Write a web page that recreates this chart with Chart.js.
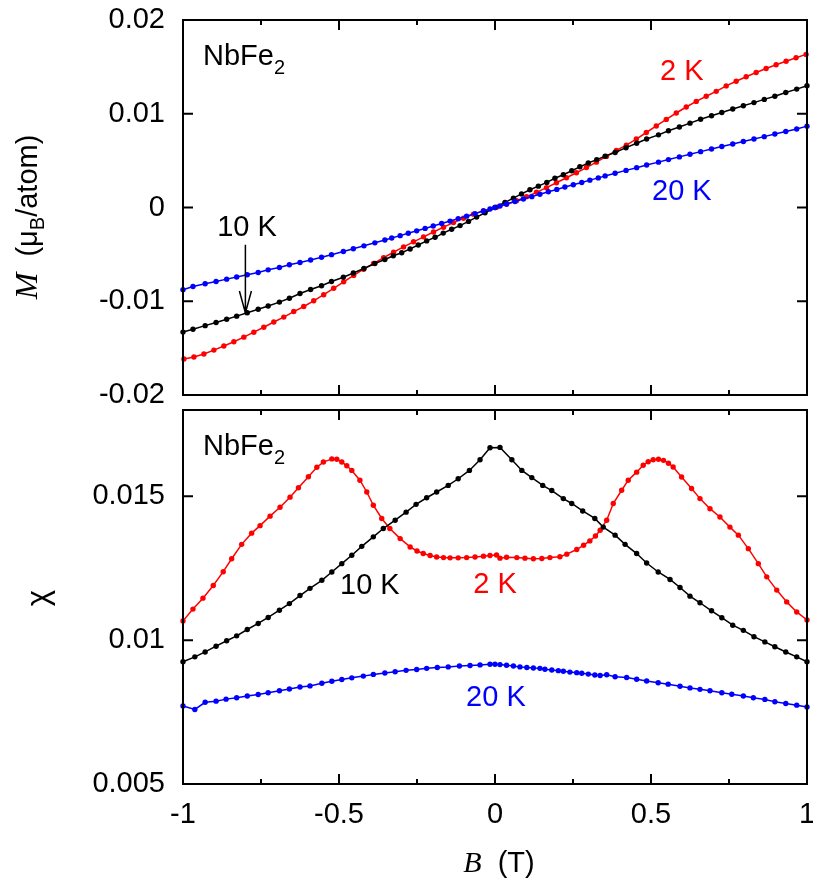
<!DOCTYPE html>
<html lang="en">
<head>
<meta charset="utf-8">
<title>NbFe2 magnetization and susceptibility</title>
<script src="https://cdn.jsdelivr.net/npm/chart.js@4.4.1/dist/chart.umd.min.js"></script>
<style>
  html, body { margin: 0; padding: 0; background: #fff; }
  #wrap { position: relative; width: 813px; height: 879px; }
  #wrap canvas { position: absolute; left: 0; }
  #magChart { top: 0; }
  #chiChart { top: 400px; }
</style>
</head>
<body>
<div id="wrap">
  <canvas id="magChart" width="813" height="420"></canvas>
  <canvas id="chiChart" width="813" height="479"></canvas>
</div>

<script>
// ---- magnetization M(B), muB/atom ----
const magField20K = [-1, -0.968, -0.929, -0.894, -0.86, -0.828, -0.794, -0.759, -0.727, -0.691,
  -0.659, -0.625, -0.591, -0.556, -0.524, -0.486, -0.454, -0.42, -0.385, -0.353,
  -0.331, -0.304, -0.278, -0.251, -0.224, -0.198, -0.171, -0.144, -0.118, -0.091,
  -0.064, -0.037, -0.016, 0, 0.016, 0.037, 0.064, 0.091, 0.118, 0.144,
  0.171, 0.198, 0.224, 0.251, 0.278, 0.304, 0.331, 0.353, 0.385, 0.42,
  0.454, 0.486, 0.524, 0.556, 0.591, 0.625, 0.659, 0.694, 0.727, 0.762,
  0.796, 0.83, 0.863, 0.897, 0.932, 0.967, 1];
const mag20K = [-0.00878, -0.00843, -0.00814, -0.00789, -0.00764, -0.00742, -0.00718, -0.00693, -0.00665, -0.0064,
  -0.00611, -0.00587, -0.0056, -0.00531, -0.00503, -0.00469, -0.0044, -0.00409, -0.00377, -0.00347,
  -0.00326, -0.003, -0.00275, -0.00249, -0.00223, -0.00198, -0.00171, -0.00145, -0.00119, -0.00092,
  -0.00065, -0.00038, -0.00016, 0, 0.00016, 0.00038, 0.00064, 0.0009, 0.00116, 0.00142,
  0.00168, 0.00193, 0.00218, 0.00243, 0.00267, 0.00292, 0.00316, 0.00337, 0.00366, 0.00396,
  0.00425, 0.00453, 0.00484, 0.00511, 0.0054, 0.00568, 0.00596, 0.00624, 0.0065, 0.00677,
  0.00704, 0.0073, 0.00756, 0.00784, 0.0081, 0.00838, 0.00868];

const magField10K = [-1, -0.968, -0.929, -0.894, -0.86, -0.828, -0.794, -0.759, -0.727, -0.691,
  -0.659, -0.625, -0.591, -0.556, -0.524, -0.486, -0.454, -0.42, -0.385, -0.353,
  -0.326, -0.299, -0.272, -0.246, -0.219, -0.192, -0.166, -0.139, -0.112, -0.085,
  -0.059, -0.032, 0, 0.032, 0.059, 0.085, 0.112, 0.139, 0.166, 0.192,
  0.219, 0.246, 0.272, 0.299, 0.326, 0.353, 0.385, 0.42, 0.454, 0.486,
  0.524, 0.556, 0.591, 0.625, 0.659, 0.694, 0.727, 0.762, 0.796, 0.83,
  0.863, 0.897, 0.932, 0.967, 1];
const mag10K = [-0.01329, -0.01298, -0.0126, -0.01226, -0.01192, -0.01159, -0.01123, -0.01086, -0.0105, -0.01009,
  -0.00968, -0.00918, -0.00875, -0.00834, -0.0079, -0.00744, -0.00699, -0.0065, -0.00598, -0.00554,
  -0.00515, -0.00482, -0.00442, -0.004, -0.00356, -0.00318, -0.00273, -0.00232, -0.00193, -0.00148,
  -0.00102, -0.00056, 0, 0.00055, 0.001, 0.00145, 0.00189, 0.00228, 0.00268, 0.00312,
  0.00349, 0.00392, 0.00434, 0.00474, 0.00511, 0.00548, 0.00587, 0.00638, 0.00685, 0.0073,
  0.00775, 0.00818, 0.00858, 0.009, 0.00941, 0.00978, 0.01013, 0.0105, 0.01085, 0.01119,
  0.01153, 0.01186, 0.01227, 0.01263, 0.01298];

const magField2K = [-0.997, -0.965, -0.933, -0.901, -0.869, -0.837, -0.805, -0.773, -0.741, -0.709,
  -0.677, -0.645, -0.613, -0.581, -0.549, -0.517, -0.485, -0.453, -0.421, -0.389,
  -0.357, -0.325, -0.293, -0.261, -0.229, -0.197, -0.165, -0.133, -0.101, -0.069,
  -0.037, 0.005, 0.037, 0.069, 0.101, 0.133, 0.165, 0.197, 0.229, 0.261,
  0.293, 0.325, 0.357, 0.389, 0.421, 0.453, 0.485, 0.517, 0.549, 0.581,
  0.613, 0.645, 0.677, 0.709, 0.741, 0.773, 0.805, 0.837, 0.869, 0.901,
  0.933, 0.965, 0.997];
const mag2K = [-0.01616, -0.01594, -0.01562, -0.01521, -0.01478, -0.01432, -0.01383, -0.0133, -0.01277, -0.01221,
  -0.01169, -0.0111, -0.01056, -0.00995, -0.0093, -0.00862, -0.00793, -0.00724, -0.00658, -0.00596,
  -0.00536, -0.00477, -0.0042, -0.00366, -0.00313, -0.00261, -0.0021, -0.00161, -0.00114, -0.00071,
  -0.00033, 0.00004, 0.00034, 0.00072, 0.00115, 0.00162, 0.00212, 0.00264, 0.00317, 0.00371,
  0.00426, 0.00484, 0.00545, 0.00609, 0.00665, 0.0073, 0.008, 0.0087, 0.0094, 0.01008,
  0.01072, 0.01132, 0.01187, 0.01239, 0.01297, 0.01347, 0.01395, 0.0144, 0.01482, 0.01522,
  0.0156, 0.01597, 0.01633];

// ---- susceptibility chi(B) ----
const chiField20K = [-1, -0.962, -0.929, -0.894, -0.862, -0.828, -0.794, -0.759, -0.727, -0.691,
  -0.659, -0.625, -0.593, -0.555, -0.523, -0.491, -0.459, -0.422, -0.39, -0.353,
  -0.32, -0.285, -0.251, -0.219, -0.185, -0.15, -0.114, -0.08, -0.048, -0.016,
  0, 0.016, 0.037, 0.059, 0.08, 0.102, 0.123, 0.144, 0.16, 0.182,
  0.203, 0.219, 0.24, 0.262, 0.278, 0.299, 0.32, 0.337, 0.358, 0.385,
  0.422, 0.454, 0.486, 0.523, 0.555, 0.593, 0.625, 0.657, 0.689, 0.727,
  0.759, 0.796, 0.828, 0.865, 0.897, 0.932, 0.967, 1];
const chi20K = [0.00771, 0.00759, 0.00784, 0.00788, 0.00795, 0.008, 0.00806, 0.00811, 0.00817, 0.00824,
  0.0083, 0.00837, 0.00841, 0.0085, 0.00857, 0.00863, 0.00869, 0.00875, 0.00881, 0.00886,
  0.0089, 0.00895, 0.00898, 0.00902, 0.00905, 0.00907, 0.0091, 0.00912, 0.00914, 0.00916,
  0.00916, 0.00915, 0.00913, 0.0091, 0.00907, 0.00905, 0.00903, 0.00902, 0.00899, 0.00896,
  0.00894, 0.00892, 0.00889, 0.00887, 0.00885, 0.00882, 0.00879, 0.00877, 0.0088, 0.00873,
  0.0087, 0.00864, 0.00858, 0.00852, 0.00847, 0.0084, 0.00834, 0.00829, 0.00824, 0.00817,
  0.00812, 0.00806, 0.008, 0.00794, 0.00786, 0.0078, 0.00774, 0.00768];

const chiField10K = [-1, -0.962, -0.929, -0.894, -0.86, -0.828, -0.794, -0.759, -0.727, -0.691,
  -0.659, -0.625, -0.593, -0.555, -0.523, -0.491, -0.459, -0.427, -0.39, -0.358,
  -0.32, -0.285, -0.253, -0.219, -0.187, -0.15, -0.118, -0.082, -0.048, -0.016,
  0.016, 0.054, 0.086, 0.118, 0.153, 0.182, 0.219, 0.246, 0.281, 0.32,
  0.347, 0.385, 0.417, 0.454, 0.486, 0.523, 0.561, 0.593, 0.625, 0.657,
  0.694, 0.727, 0.762, 0.796, 0.83, 0.865, 0.897, 0.932, 0.967, 1];
const chi10K = [0.00925, 0.00942, 0.00959, 0.00979, 0.00998, 0.01015, 0.01037, 0.01058, 0.01079, 0.01104,
  0.01127, 0.01155, 0.0118, 0.01208, 0.01237, 0.01266, 0.01295, 0.01326, 0.01359, 0.01388,
  0.01417, 0.01445, 0.01472, 0.01495, 0.01515, 0.01538, 0.01561, 0.0159, 0.01627, 0.01669,
  0.0167, 0.01627, 0.0159, 0.01565, 0.01538, 0.0152, 0.01492, 0.01475, 0.01449, 0.01423,
  0.01393, 0.01365, 0.01333, 0.01301, 0.01268, 0.01237, 0.01211, 0.01183, 0.01153, 0.0113,
  0.01102, 0.01078, 0.01052, 0.01034, 0.01012, 0.00994, 0.00977, 0.00959, 0.00942, 0.00925];

const chiField2K = [-1, -0.968, -0.936, -0.903, -0.871, -0.844, -0.812, -0.78, -0.753, -0.721,
  -0.689, -0.657, -0.63, -0.598, -0.571, -0.55, -0.523, -0.507, -0.491, -0.475,
  -0.459, -0.433, -0.411, -0.39, -0.363, -0.337, -0.304, -0.272, -0.25, -0.23,
  -0.208, -0.187, -0.165, -0.144, -0.118, -0.091, -0.064, -0.037, -0.016, 0.005,
  0.016, 0.037, 0.07, 0.096, 0.123, 0.15, 0.176, 0.208, 0.23, 0.262,
  0.284, 0.304, 0.322, 0.337, 0.358, 0.379, 0.406, 0.427, 0.454, 0.475,
  0.491, 0.507, 0.524, 0.54, 0.556, 0.571, 0.598, 0.63, 0.657, 0.689,
  0.721, 0.753, 0.78, 0.812, 0.844, 0.871, 0.903, 0.935, 0.967, 1];
const chi2K = [0.01067, 0.01108, 0.01146, 0.0119, 0.01238, 0.01283, 0.01333, 0.01372, 0.01398, 0.01431,
  0.01462, 0.01497, 0.0153, 0.01568, 0.01601, 0.01619, 0.0163, 0.01629, 0.01619, 0.01606,
  0.0159, 0.01556, 0.01515, 0.01469, 0.01423, 0.01388, 0.01353, 0.01324, 0.0131, 0.01301,
  0.01294, 0.01289, 0.01287, 0.01286, 0.01286, 0.01287, 0.01289, 0.01292, 0.01294, 0.01296,
  0.01285, 0.01288, 0.01287, 0.01285, 0.01283, 0.01284, 0.01287, 0.0129, 0.01299, 0.01315,
  0.0133, 0.01345, 0.01362, 0.01382, 0.01417, 0.01475, 0.01521, 0.01556, 0.01584, 0.01608,
  0.0162, 0.01627, 0.01629, 0.01625, 0.01615, 0.01602, 0.01567, 0.01527, 0.01492, 0.01457,
  0.01428, 0.01393, 0.01365, 0.01318, 0.01266, 0.0122, 0.01174, 0.01133, 0.01098, 0.0107];

// ---- ticks ----
const fieldTickValues = [-1, -0.5, 0, 0.5, 1];
const fieldTickMarks = [-0.75, -0.5, -0.25, 0, 0.25, 0.5, 0.75];
const magTickMarks = [-0.01, 0, 0.01];
const chiTickValues = [0.005, 0.01, 0.015];
const chiTickMarks = [0.01, 0.015];

const RED = '#ff0000', BLACK = '#000000', BLUE = '#0000ff';
const SANS = '"Liberation Sans", Arial, sans-serif';
const SERIF = '"Liberation Serif", "Times New Roman", serif';
const TICK_FONT = { family: SANS, size: 29 };

function pairs(xs, ys) {
  return xs.map((x, i) => ({ x: x, y: ys[i] }));
}

function series(label, xs, ys, color, order) {
  return {
    label: label,
    data: pairs(xs, ys),
    borderColor: color,
    backgroundColor: color,
    pointBackgroundColor: color,
    borderWidth: 1.5,
    pointRadius: 2.7,
    pointHoverRadius: 2.7,
    pointBorderWidth: 0,
    tension: 0,
    order: order,
    clip: 5
  };
}

// text made of runs with different fonts (italic symbols, subscripts)
function drawRuns(ctx, runs, x, y, align, color) {
  let w = 0;
  runs.forEach(r => { ctx.font = r.font; w += ctx.measureText(r.text).width; });
  let cx = align === 'center' ? x - w / 2 : x;
  ctx.fillStyle = color;
  ctx.textAlign = 'left';
  ctx.textBaseline = 'alphabetic';
  runs.forEach(r => {
    ctx.font = r.font;
    ctx.fillText(r.text, cx, y + (r.dy || 0));
    cx += ctx.measureText(r.text).width;
  });
}

const sans = px => px + 'px ' + SANS;
const italic = px => 'italic ' + px + 'px ' + SERIF;
const nbfe2 = [{ text: 'NbFe', font: sans(29) }, { text: '2', font: sans(20), dy: 9 }];
const simple = t => [{ text: t, font: sans(29) }];

// gnuplot-like frame with inward ticks on all four sides
function framePlugin(xMarks, yMarks) {
  return {
    id: 'frame',
    afterDraw(chart) {
      const { ctx, chartArea: a, scales: { x, y } } = chart;
      ctx.save();
      ctx.strokeStyle = '#000';
      ctx.lineWidth = 2;
      ctx.beginPath();
      xMarks.forEach(v => {
        const px = x.getPixelForValue(v);
        const len = Math.abs(v * 2 - Math.round(v * 2)) < 1e-9 ? 10 : 5;
        ctx.moveTo(px, a.bottom); ctx.lineTo(px, a.bottom - len);
        ctx.moveTo(px, a.top); ctx.lineTo(px, a.top + len);
      });
      yMarks.forEach(v => {
        const py = y.getPixelForValue(v);
        ctx.moveTo(a.left, py); ctx.lineTo(a.left + 10, py);
        ctx.moveTo(a.right, py); ctx.lineTo(a.right - 10, py);
      });
      ctx.stroke();
      ctx.strokeRect(a.left, a.top, a.right - a.left, a.bottom - a.top);
      ctx.restore();
    }
  };
}

// in-plot labels (data coordinates), arrows and axis titles (pixels)
function notesPlugin(notes, arrows, titles) {
  return {
    id: 'notes',
    afterDraw(chart) {
      const { ctx, scales: { x, y } } = chart;
      ctx.save();
      notes.forEach(n => drawRuns(ctx, n.runs, x.getPixelForValue(n.at[0]),
        y.getPixelForValue(n.at[1]), n.align, n.color));
      arrows.forEach(ar => {
        const px = x.getPixelForValue(ar.x);
        const y0 = y.getPixelForValue(ar.from), y1 = y.getPixelForValue(ar.to);
        ctx.strokeStyle = '#000';
        ctx.lineWidth = 1.5;
        ctx.beginPath();
        ctx.moveTo(px, y0); ctx.lineTo(px, y1);
        ctx.moveTo(px - 6, y1 - 22); ctx.lineTo(px, y1); ctx.lineTo(px + 6, y1 - 22);
        ctx.stroke();
      });
      titles.forEach(t => {
        ctx.save();
        ctx.translate(t.x, t.y);
        ctx.rotate(t.angle);
        drawRuns(ctx, t.runs, 0, 0, 'center', '#000');
        ctx.restore();
      });
      ctx.restore();
    }
  };
}

function yAxis(min, max, extra) {
  return Object.assign({
    min: min,
    max: max,
    grid: { display: false, drawTicks: false },
    border: { display: false },
    afterFit(s) { s.width = 183; s.paddingTop = 0; s.paddingBottom = 0; }
  }, extra);
}

// ---- upper panel: M vs B ----
new Chart(document.getElementById('magChart'), {
  type: 'line',
  data: {
    datasets: [
      series('20 K', magField20K, mag20K, BLUE, 0),
      series('10 K', magField10K, mag10K, BLACK, 1),
      series('2 K', magField2K, mag2K, RED, 2)
    ]
  },
  options: {
    responsive: false,
    devicePixelRatio: 1,
    animation: false,
    events: [],
    layout: { padding: { top: 20, right: 6, bottom: 25, left: 0 } },
    plugins: { legend: { display: false }, tooltip: { enabled: false } },
    scales: {
      x: { type: 'linear', min: -1, max: 1, display: false },
      y: yAxis(-0.02, 0.02, {
        ticks: {
          padding: 18, color: '#000', font: TICK_FONT, stepSize: 0.01,
          callback: v => { const r = Math.round(v * 100) / 100; return r === 0 ? '0' : String(r); }
        }
      })
    }
  },
  plugins: [
    framePlugin(fieldTickMarks, magTickMarks),
    notesPlugin(
      [
        { runs: nbfe2, at: [-0.936, 0.01522], align: 'left', color: BLACK },
        { runs: simple('2 K'), at: [0.599, 0.01362], align: 'center', color: RED },
        { runs: simple('20 K'), at: [0.599, 0.00082], align: 'center', color: BLUE },
        { runs: simple('10 K'), at: [-0.795, -0.00309], align: 'center', color: BLACK }
      ],
      [{ x: -0.8, from: -0.00398, to: -0.01125 }],
      [{
        x: 37, y: 217, angle: -Math.PI / 2,
        runs: [
          { text: 'M', font: italic(32) },
          { text: '  (\u03bc', font: sans(29) },
          { text: 'B', font: sans(20), dy: 7 },
          { text: '/atom)', font: sans(29) }
        ]
      }]
    )
  ]
});

// ---- lower panel: chi vs B ----
new Chart(document.getElementById('chiChart'), {
  type: 'line',
  data: {
    datasets: [
      series('20 K', chiField20K, chi20K, BLUE, 0),
      series('10 K', chiField10K, chi10K, BLACK, 1),
      series('2 K', chiField2K, chi2K, RED, 2)
    ]
  },
  options: {
    responsive: false,
    devicePixelRatio: 1,
    animation: false,
    events: [],
    layout: { padding: { top: 10, right: 6, bottom: 0, left: 0 } },
    plugins: { legend: { display: false }, tooltip: { enabled: false } },
    scales: {
      x: {
        type: 'linear', min: -1, max: 1,
        grid: { display: false, drawTicks: false },
        border: { display: false },
        afterBuildTicks(s) { s.ticks = fieldTickValues.map(v => ({ value: v })); },
        ticks: {
          padding: 14, color: '#000', font: TICK_FONT, maxRotation: 0, autoSkip: false,
          callback: v => String(v)
        },
        afterFit(s) { s.height = 95; s.paddingLeft = 0; s.paddingRight = 0; }
      },
      y: yAxis(0.005, 0.018, {
        afterBuildTicks(s) { s.ticks = chiTickValues.map(v => ({ value: v })); },
        ticks: { padding: 18, color: '#000', font: TICK_FONT, callback: v => String(v) }
      })
    }
  },
  plugins: [
    framePlugin(fieldTickMarks, chiTickMarks),
    notesPlugin(
      [
        { runs: nbfe2, at: [-0.936, 0.01642], align: 'left', color: BLACK },
        { runs: simple('10 K'), at: [-0.401, 0.01162], align: 'center', color: BLACK },
        { runs: simple('2 K'), at: [0, 0.01163], align: 'center', color: RED },
        { runs: simple('20 K'), at: [0.003, 0.00771], align: 'center', color: BLUE }
      ],
      [],
      [
        { x: 48, y: 198, angle: -Math.PI / 2, runs: [{ text: '\u03c7', font: sans(31) }] },
        {
          x: 499, y: 472, angle: 0,
          runs: [{ text: 'B', font: italic(30) }, { text: '  (T)', font: sans(29) }]
        }
      ]
    )
  ]
});
</script>
</body>
</html>
